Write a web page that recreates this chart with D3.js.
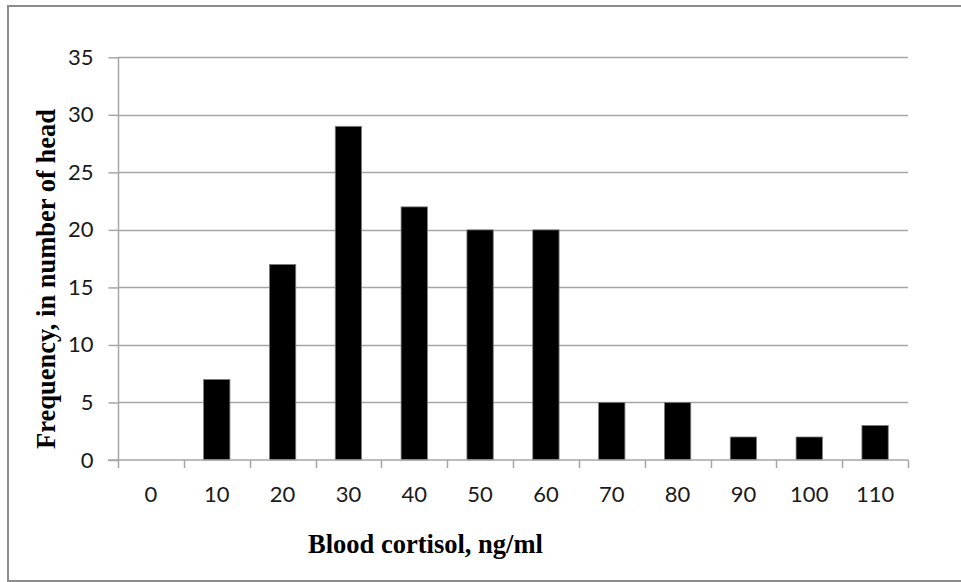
<!DOCTYPE html>
<html>
<head>
<meta charset="utf-8">
<script src="https://cdn.jsdelivr.net/npm/d3@7/dist/d3.min.js"></script>
<style>
  html, body { margin: 0; padding: 0; background: #fff; }
  svg { display: block; }
</style>
</head>
<body>
<svg id="chart" width="961" height="582"></svg>
<script>
const categories = ["0", "10", "20", "30", "40", "50", "60", "70", "80", "90", "100", "110"];
const frequency = [0, 7, 17, 29, 22, 20, 20, 5, 5, 2, 2, 3];
const yTicks = [0, 5, 10, 15, 20, 25, 30, 35];
const xTitle = "Blood cortisol, ng/ml";
const yTitle = "Frequency, in number of head";

const svg = d3.select("#chart");
const plot = { left: 118, right: 908, top: 57.3, bottom: 460 };

// outer border
svg.append("rect")
  .attr("x", 8).attr("y", 6)
  .attr("width", 960).attr("height", 575)
  .attr("fill", "#fff")
  .attr("stroke", "#8c8c8c")
  .attr("stroke-width", 2);

const x = d3.scaleBand().domain(categories).range([plot.left, plot.right]).paddingInner(0.6).paddingOuter(0.3);
const xTick = d3.scaleBand().domain(categories).range([plot.left, plot.right]);
const y = d3.scaleLinear().domain([0, 35]).range([plot.bottom, plot.top]);

// gridlines
svg.append("g").selectAll("line").data(yTicks.filter(d => d > 0)).join("line")
  .attr("x1", plot.left).attr("x2", plot.right)
  .attr("y1", d => Math.round(y(d)) + 0.5).attr("y2", d => Math.round(y(d)) + 0.5)
  .attr("stroke", "#a6a6a6").attr("stroke-width", 1.5);

// y axis
const yAxis = d3.axisLeft(y).tickValues(yTicks).tickSize(10).tickPadding(15).tickFormat(d3.format("d"));
const gy = svg.append("g").attr("transform", `translate(${plot.left + 0.5},0)`).call(yAxis);
gy.select(".domain").attr("stroke", "#a6a6a6").attr("stroke-width", 1.5).attr("d", `M0,${plot.top}V${plot.bottom}`);
gy.selectAll(".tick line").attr("stroke", "#a6a6a6").attr("stroke-width", 1.5);
gy.selectAll(".tick text").attr("font-family", "Lato, 'Open Sans', sans-serif").attr("font-size", 22).attr("fill", "#1a1a1a");

// bars
svg.append("g").selectAll("rect").data(frequency).join("rect")
  .attr("x", (d, i) => x(categories[i]))
  .attr("width", x.bandwidth())
  .attr("y", d => y(d))
  .attr("height", d => y(0) - y(d))
  .attr("fill", "#000")
  .attr("stroke", d => d > 0 ? "#7f7f7f" : "none")
  .attr("stroke-width", 0.8);

// x axis
const xAxis = d3.axisBottom(xTick).tickSize(0).tickPadding(26);
const gx = svg.append("g").attr("transform", `translate(0,${plot.bottom})`).call(xAxis);
gx.select(".domain").attr("stroke", "#a6a6a6").attr("stroke-width", 1.5).attr("d", `M${plot.left - 10},0H${plot.right}`);
gx.selectAll(".tick text").attr("font-family", "Lato, 'Open Sans', sans-serif").attr("font-size", 22).attr("fill", "#1a1a1a");
// category boundary ticks
const bounds = categories.map(c => xTick(c)).concat([plot.right]);
svg.append("g").selectAll("line").data(bounds).join("line")
  .attr("x1", d => Math.round(d) + 0.5).attr("x2", d => Math.round(d) + 0.5)
  .attr("y1", plot.bottom).attr("y2", plot.bottom + 8)
  .attr("stroke", "#a6a6a6").attr("stroke-width", 1.5);

// titles
svg.append("text")
  .attr("x", 425.5).attr("y", 553)
  .attr("text-anchor", "middle")
  .attr("font-family", "'Liberation Serif', 'Times New Roman', serif")
  .attr("font-weight", "bold").attr("font-size", 26.5)
  .attr("fill", "#000")
  .text(xTitle);

svg.append("text")
  .attr("transform", "translate(55,279) rotate(-90)")
  .attr("text-anchor", "middle")
  .attr("font-family", "'Liberation Serif', 'Times New Roman', serif")
  .attr("font-weight", "bold").attr("font-size", 26.5)
  .attr("fill", "#000")
  .text(yTitle);
</script>
</body>
</html>
